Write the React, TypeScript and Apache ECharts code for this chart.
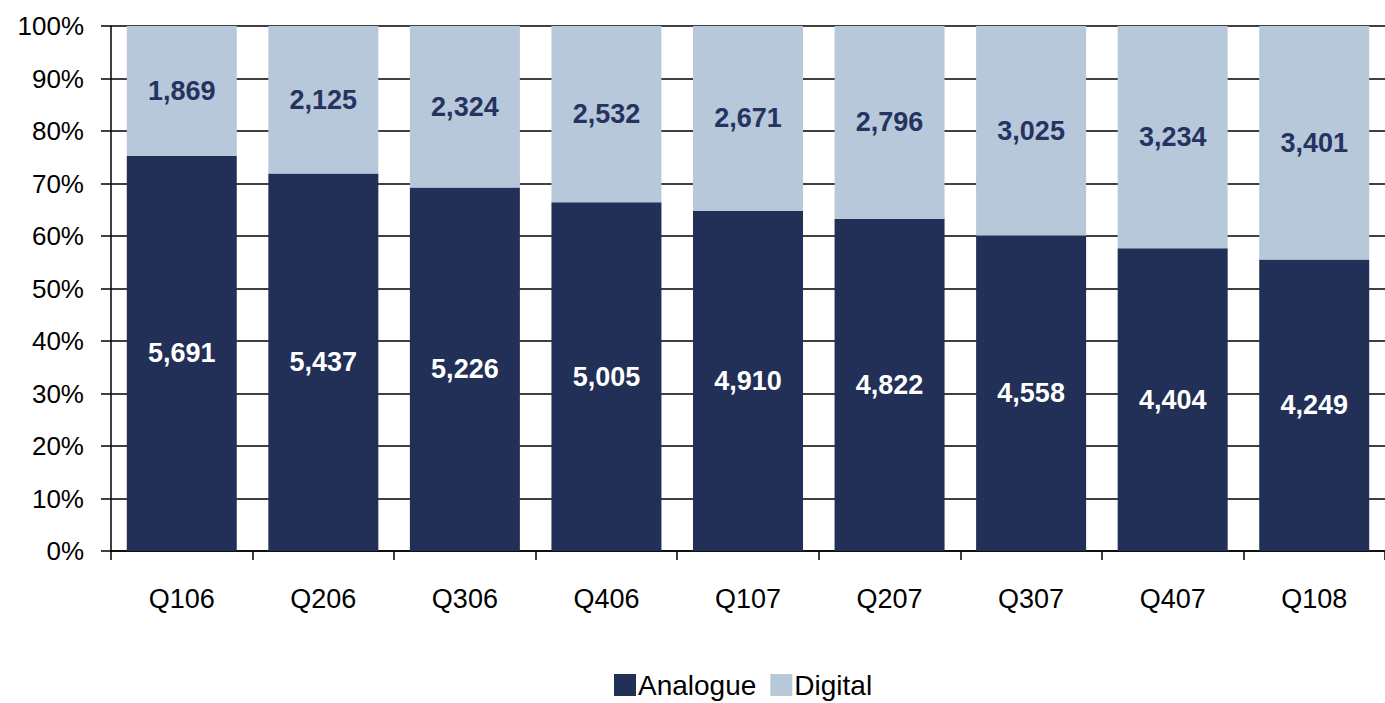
import React, { useEffect, useRef } from "react";
import * as echarts from "echarts";

const categories = ["Q106", "Q206", "Q306", "Q406", "Q107", "Q207", "Q307", "Q407", "Q108"];
const analogue = [5691, 5437, 5226, 5005, 4910, 4822, 4558, 4404, 4249];
const digital = [1869, 2125, 2324, 2532, 2671, 2796, 3025, 3234, 3401];
const yTickLabels = ["0%", "10%", "20%", "30%", "40%", "50%", "60%", "70%", "80%", "90%", "100%"];

const fmt = (v: number) => v.toLocaleString("en-US");

export default function App() {
  const ref = useRef<HTMLDivElement>(null);
  useEffect(() => {
    if (!ref.current) return;
    const chart = echarts.init(ref.current, null, { renderer: "svg" });
    const totals = analogue.map((a, i) => a + digital[i]);
    const aPct = analogue.map((a, i) => (a / totals[i]) * 100);
    const dPct = digital.map((d, i) => (d / totals[i]) * 100);
    const font = "Liberation Sans, Arial, sans-serif";
    chart.setOption({
      animation: false,
      textStyle: { fontFamily: font },
      grid: { left: 111, width: 1279, top: 26, bottom: 152, containLabel: false },
      legend: {
        left: 614,
        top: 670,
        padding: 0,
        itemWidth: 22,
        itemHeight: 22,
        itemGap: 14,
        icon: "rect",
        textStyle: { fontSize: 28, lineHeight: 30, color: "#000", fontFamily: font, padding: [0, 0, 0, -3] },
        data: ["Analogue", "Digital"],
      },
      xAxis: {
        type: "category",
        data: categories,
        axisLine: { lineStyle: { color: "#000", width: 1.5 } },
        axisTick: { show: true, length: 9, lineStyle: { color: "#000", width: 1.5 } },
        axisLabel: { color: "#000", fontSize: 27, margin: 34, fontFamily: font },
      },
      yAxis: {
        type: "value",
        min: 0,
        max: 100,
        interval: 10,
        axisLine: { show: true, lineStyle: { color: "#000", width: 1.5 } },
        axisTick: { show: true, length: 10, lineStyle: { color: "#000", width: 1.5 } },
        axisLabel: {
          color: "#000",
          fontSize: 26,
          margin: 27,
          fontFamily: font,
          formatter: (v: number) => yTickLabels[Math.round(v / 10)],
        },
        splitLine: { show: true, lineStyle: { color: "#000", width: 1.5 } },
      },
      series: [
        {
          name: "Analogue",
          type: "bar",
          stack: "s",
          barWidth: 110,
          data: aPct,
          itemStyle: { color: "#223058" },
          label: {
            show: true,
            position: "inside",
            color: "#fff",
            fontSize: 27,
            fontWeight: "bold",
            fontFamily: font,
            formatter: (p: any) => fmt(analogue[p.dataIndex]),
          },
        },
        {
          name: "Digital",
          type: "bar",
          stack: "s",
          barWidth: 110,
          data: dPct,
          itemStyle: { color: "#b7c8db" },
          label: {
            show: true,
            position: "inside",
            color: "#24335f",
            fontSize: 27,
            fontWeight: "bold",
            fontFamily: font,
            formatter: (p: any) => fmt(digital[p.dataIndex]),
          },
        },
      ],
    });
    return () => chart.dispose();
  }, []);
  return (
    <div
      ref={ref}
      style={{ position: "fixed", left: 0, top: 0, width: 1385, height: 703, background: "#fff" }}
    />
  );
}
